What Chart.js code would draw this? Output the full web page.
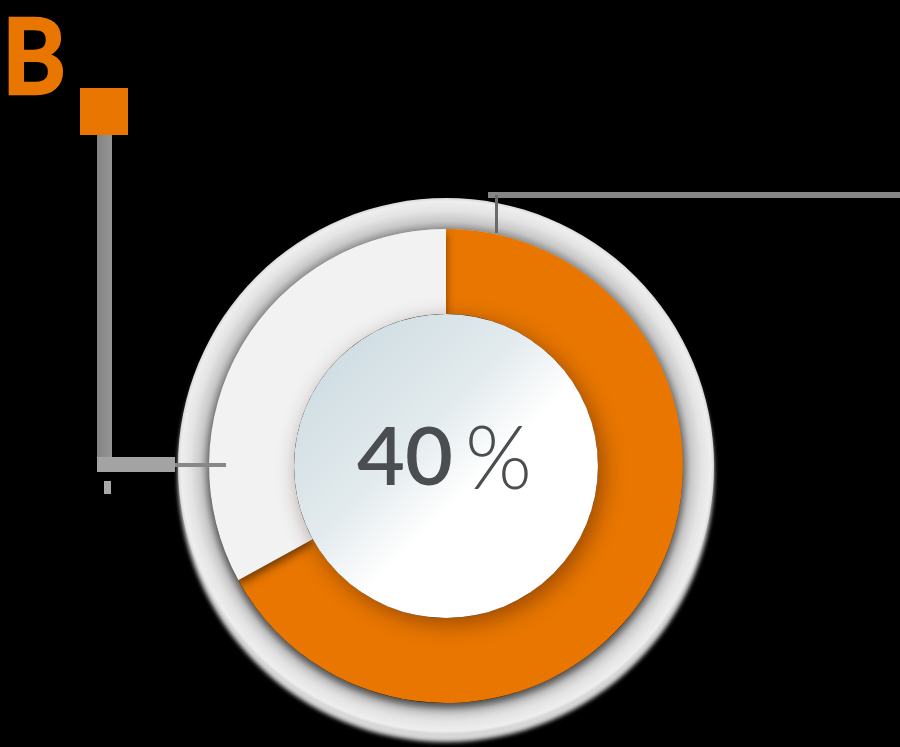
<!DOCTYPE html>
<html>
<head>
<meta charset="utf-8">
<style>
  html, body { margin: 0; padding: 0; background: #000; }
  #wrap { position: relative; width: 900px; height: 747px; }
</style>
<script src="https://cdn.jsdelivr.net/npm/chart.js@4.4.0/dist/chart.umd.min.js"></script>
</head>
<body>
<div id="wrap"><canvas id="chart" width="900" height="747"></canvas></div>
<script>
// data
const categories = ['B', 'other'];
const shareValues = [67, 33];
const rimValues = [100];
const centerLabel = '40';
const centerUnit = '%';
const cornerLetter = 'B';

const ORANGE = '#E87600';
const LIGHT = '#F2F2F3';
const RIM_W = 31, SHARE_W = 85, CUTOUT = 56.7;

// outer grey rim gradient (worked out from the chart area so it is ready before arcs exist)
function rimFill(ctx) {
  const chart = ctx.chart;
  const a = chart.chartArea;
  if (!a) return '#dddddd';
  const cx = (a.left + a.right) / 2, cy = (a.top + a.bottom) / 2;
  const r1 = Math.min(a.right - a.left, a.bottom - a.top) / 2;
  const rIn = r1 * CUTOUT / 100;
  const r0 = r1 - (r1 - rIn) * RIM_W / (RIM_W + SHARE_W);
  if (!isFinite(r0) || r0 <= 0) return '#dddddd';
  const g = chart.ctx.createRadialGradient(cx, cy, r0, cx, cy, r1);
  g.addColorStop(0, '#9a9a9a');
  g.addColorStop(0.25, '#c8c8c8');
  g.addColorStop(0.6, '#e4e4e4');
  g.addColorStop(0.9, '#eeeeee');
  g.addColorStop(1, '#d8d8d8');
  return g;
}

// soft shadows: rim sags a little at the bottom, ring darkens the rim under it
const shadows = {
  id: 'shadows',
  beforeDatasetDraw(chart, args) {
    const c = chart.ctx;
    c.save();
    if (args.index === 0) {
      c.shadowColor = 'rgba(216,216,216,1)';
      c.shadowBlur = 4;
      c.shadowOffsetY = 8;
    } else {
      c.shadowColor = 'rgba(0,0,0,0.5)';
      c.shadowBlur = 8;
      c.shadowOffsetY = 5;
    }
  },
  afterDatasetDraw(chart) {
    chart.ctx.restore();
  }
};

const centerDisc = {
  id: 'centerDisc',
  afterDatasetsDraw(chart) {
    const arc = chart.getDatasetMeta(1).data[0];
    const p = arc.getProps(['x', 'y', 'innerRadius'], true);
    const c = chart.ctx;
    const r = p.innerRadius;
    c.save();
    c.beginPath();
    c.arc(p.x, p.y, r, 0, Math.PI * 2);
    const g = c.createLinearGradient(p.x - r * 0.75, p.y - r * 0.75, p.x + r * 0.5, p.y + r * 0.5);
    g.addColorStop(0, '#cfdde2');
    g.addColorStop(0.45, '#e3ebee');
    g.addColorStop(0.72, '#ffffff');
    g.addColorStop(1, '#ffffff');
    c.fillStyle = g;
    c.shadowColor = 'rgba(60,20,0,0.45)';
    c.shadowBlur = 22;
    c.shadowOffsetX = 5;
    c.shadowOffsetY = 6;
    c.fill();
    c.restore();

    // centre text
    c.save();
    c.fillStyle = '#4b4e50';
    c.textBaseline = 'alphabetic';
    c.textAlign = 'left';
    c.font = '600 80px Lato';
    const w1 = c.measureText(centerLabel).width;
    c.save();
    c.translate(p.x - 89, p.y + 19);
    c.scale(96 / w1, 1);
    c.fillText(centerLabel, 0, 0);
    c.restore();
    c.font = '300 88px Lato';
    const w2 = c.measureText(centerUnit).width;
    c.save();
    c.translate(p.x + 19, p.y + 23);
    c.scale(67 / w2, 1);
    c.fillText(centerUnit, 0, 0);
    c.restore();
    c.restore();
  }
};

const callouts = {
  id: 'callouts',
  afterDraw(chart) {
    const c = chart.ctx;
    const arc = chart.getDatasetMeta(1).data[0];
    const cy = arc.y;
    c.save();
    // corner letter and marker
    c.fillStyle = ORANGE;
    c.strokeStyle = ORANGE;
    c.lineWidth = 2.5;
    c.lineJoin = 'miter';
    c.font = '700 106px Lato';
    c.textBaseline = 'alphabetic';
    const bw = c.measureText(cornerLetter).width;
    c.save();
    c.translate(2, 94);
    c.scale(64 / bw, 1);
    c.fillText(cornerLetter, 0, 0);
    c.strokeText(cornerLetter, 0, 0);
    c.restore();
    c.fillRect(80, 88, 48, 47);

    // left connector
    const lg = c.createLinearGradient(97, 0, 112, 0);
    lg.addColorStop(0, '#848484');
    lg.addColorStop(1, '#959595');
    c.fillStyle = lg;
    c.fillRect(97, 135, 15, cy + 6 - 135);
    c.fillStyle = '#a3a3a3';
    c.fillRect(97, cy - 9, 78, 15);
    c.fillStyle = '#888888';
    c.fillRect(175, cy - 3, 51, 4);
    c.fillStyle = '#a8a8a8';
    c.fillRect(104, cy + 15, 7, 13);

    // top right connector
    c.fillStyle = '#858585';
    c.fillRect(488, 192, 412, 6);
    c.fillStyle = '#6a6a6a';
    c.fillRect(495, 195, 3, 38);
    c.restore();
  }
};

new Chart(document.getElementById('chart'), {
  type: 'doughnut',
  data: {
    labels: categories,
    datasets: [
      {
        label: 'rim',
        data: rimValues,
        backgroundColor: rimFill,
        borderWidth: 0,
        weight: RIM_W,
        order: 2
      },
      {
        label: 'share',
        data: shareValues,
        backgroundColor: [ORANGE, LIGHT],
        borderWidth: 0,
        weight: SHARE_W,
        order: 1
      }
    ]
  },
  options: {
    responsive: false,
    animation: false,
    cutout: CUTOUT + '%',
    hoverOffset: 0,
    layout: { padding: { left: 178, right: 186, top: 198, bottom: 13 } },
    plugins: {
      legend: { display: false },
      tooltip: { enabled: false }
    },
    events: []
  },
  plugins: [shadows, centerDisc, callouts]
});
</script>
</body>
</html>
